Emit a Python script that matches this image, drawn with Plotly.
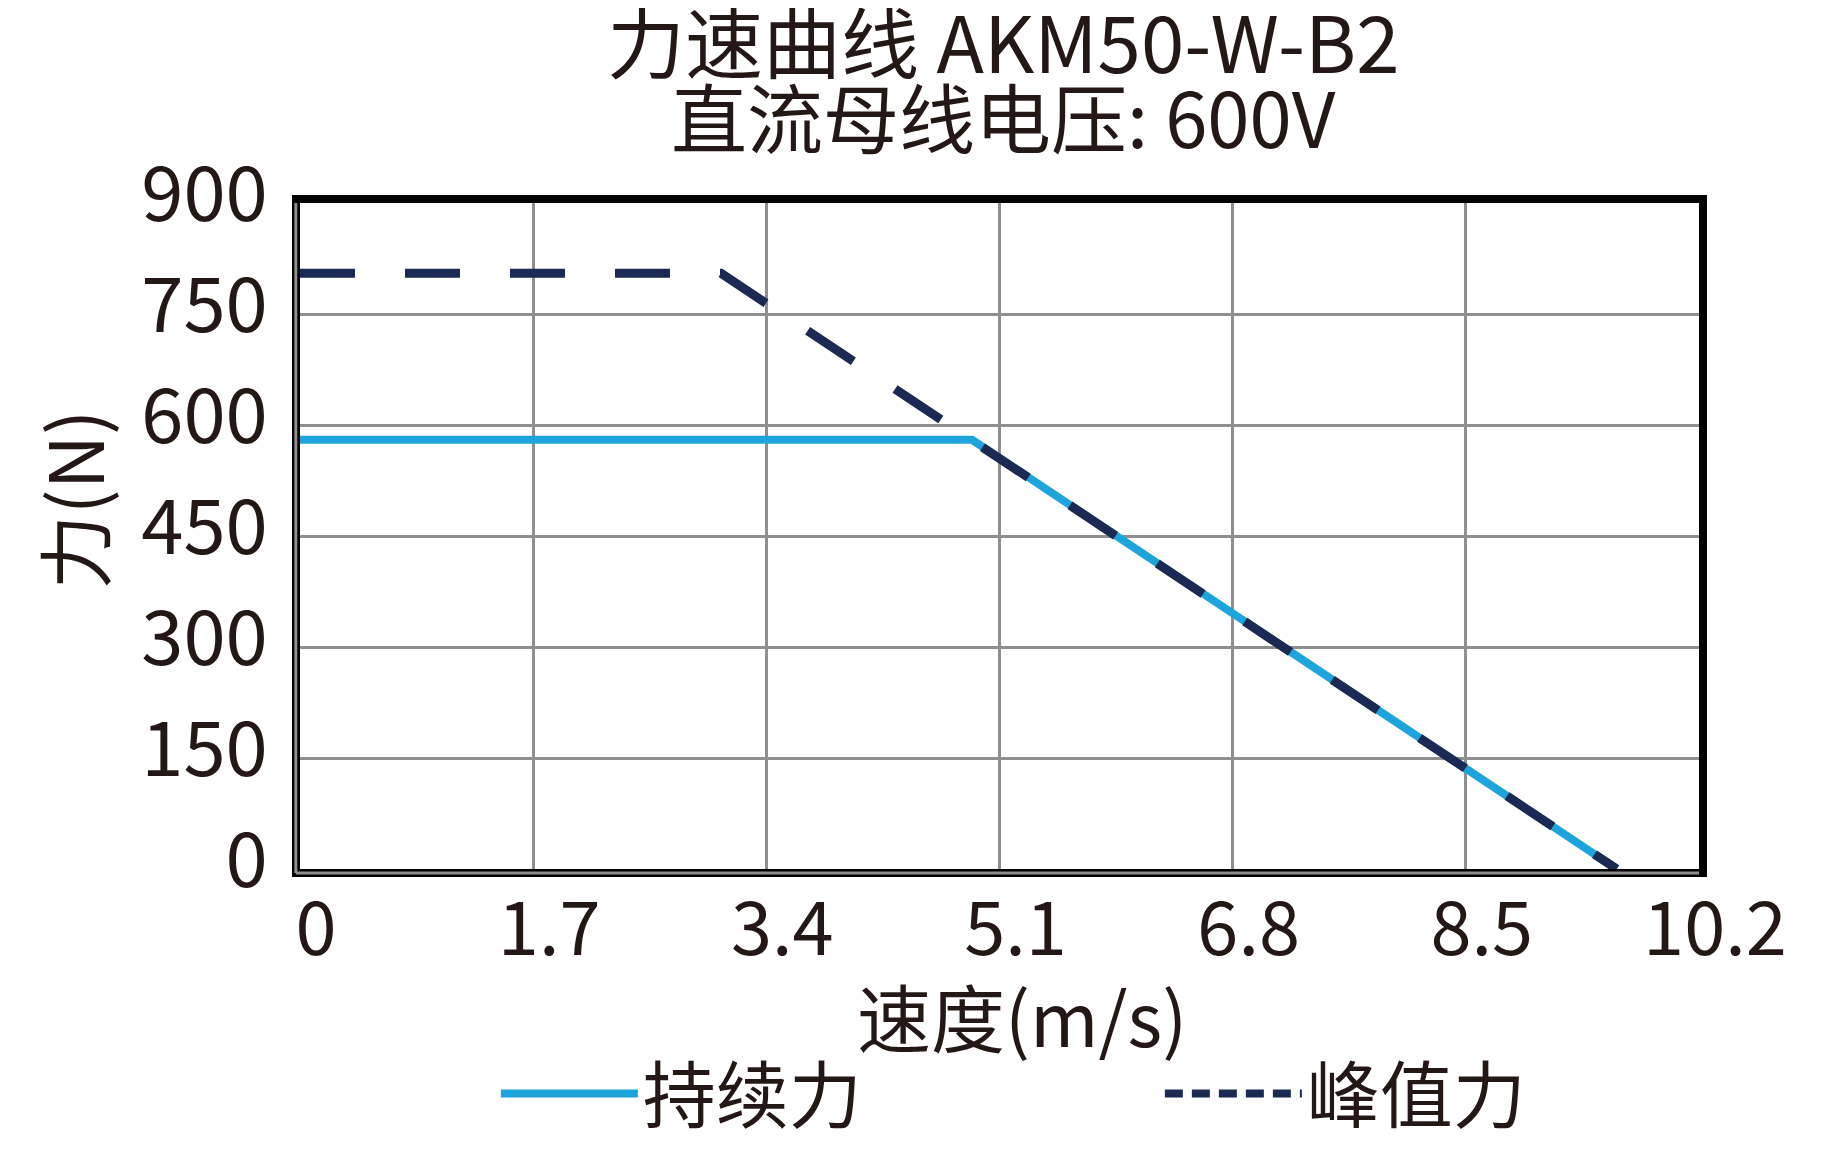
import plotly.graph_objects as go

# 力速曲线数据 (速度 m/s, 力 N)
cont_speed = [0, 4.9, 9.6]
cont_force = [580, 580, 0]
peak_speed = [0, 3.07, 9.6]
peak_force = [805, 805, 0]

x_ticks = [0, 1.7, 3.4, 5.1, 6.8, 8.5, 10.2]
x_labels = ['0', '1.7', '3.4', '5.1', '6.8', '8.5', '10.2']
y_ticks = [0, 150, 300, 450, 600, 750, 900]

FONT = 'Noto Sans CJK SC'
TXT = '#231815'
BLUE = '#1ea4dc'
NAVY = '#1b2a52'

fig = go.Figure()
fig.add_trace(go.Scatter(x=cont_speed, y=cont_force, mode='lines', name='持续力',
                         line=dict(color=BLUE, width=8)))
fig.add_trace(go.Scatter(x=peak_speed, y=peak_force, mode='lines', name='峰值力',
                         line=dict(color=NAVY, width=9, dash='55px,50px'), showlegend=False))
# legend entry only, with a finer dash like the original legend
fig.add_trace(go.Scatter(x=[None], y=[None], mode='lines', name='峰值力',
                         line=dict(color=NAVY, width=8, dash='18px,9px')))

fig.update_xaxes(range=[0, 10.2], tickvals=x_ticks, ticktext=x_labels,
                 showgrid=True, gridcolor='#8f8f8f', gridwidth=3, zeroline=False,
                 showline=True, mirror=True, linecolor='black', linewidth=8,
                 tickfont=dict(family=FONT, size=74, color=TXT), ticklabelshift=16,
                 ticklabelstandoff=-11)
fig.update_yaxes(range=[0, 900], tickvals=y_ticks,
                 showgrid=True, gridcolor='#8f8f8f', gridwidth=3, zeroline=False,
                 showline=True, mirror=True, linecolor='black', linewidth=8,
                 tickfont=dict(family=FONT, size=76, color=TXT), ticklabelshift=-9,
                 ticklabelstandoff=9)

# gray inner stroke on left and bottom border
fig.add_shape(type='line', xref='paper', yref='paper', x0=-0.003, x1=1.0, y0=-0.006, y1=-0.006,
              line=dict(color='#8f8f8f', width=3), layer='above')
fig.add_shape(type='line', xref='paper', yref='paper', x0=-0.003, x1=-0.003, y0=-0.006, y1=1.0,
              line=dict(color='#8f8f8f', width=3), layer='above')

fig.add_annotation(text='力速曲线 AKM50-W-B2', xref='paper', yref='paper', x=0.503, y=1.246,
                   showarrow=False, xanchor='center', yanchor='middle',
                   font=dict(family=FONT, size=78, color=TXT))
fig.add_annotation(text='直流母线电压: 600V', xref='paper', yref='paper', x=0.503, y=1.132,
                   showarrow=False, xanchor='center', yanchor='middle',
                   font=dict(family=FONT, size=76, color=TXT))
fig.add_annotation(text='速度(m/s)', xref='paper', yref='paper', x=0.516, y=-0.2186,
                   showarrow=False, xanchor='center', yanchor='middle',
                   font=dict(family=FONT, size=74, color=TXT))
fig.add_annotation(text='力(N)', xref='paper', yref='paper', x=-0.164, y=0.554, textangle=-90,
                   showarrow=False, xanchor='center', yanchor='middle',
                   font=dict(family=FONT, size=75, color=TXT))

fig.update_layout(
    width=1834, height=1152,
    margin=dict(l=292, r=143, t=195, b=280),
    paper_bgcolor='white', plot_bgcolor='white',
    legend=dict(orientation='h', x=0.140, xanchor='left', y=-0.337, yanchor='middle',
                font=dict(family=FONT, size=73, color=TXT),
                itemwidth=137, entrywidth=512, bgcolor='rgba(0,0,0,0)'),
)

fig.write_html('out.html')
